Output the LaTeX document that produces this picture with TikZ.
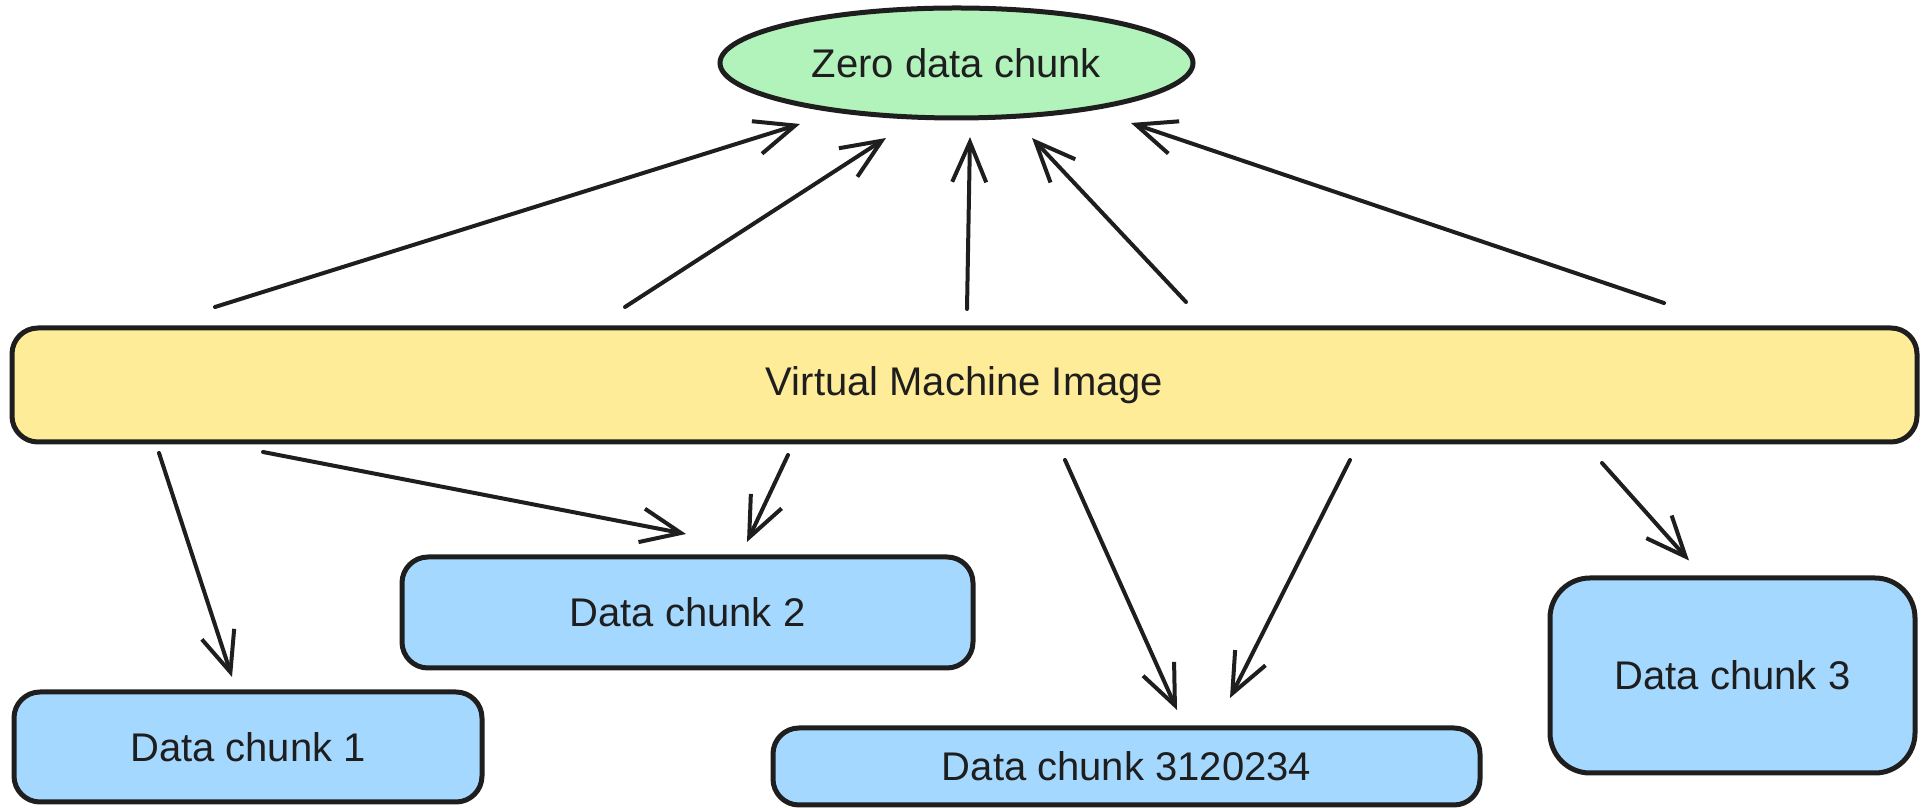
\documentclass[tikz,border=0pt]{standalone}
\usepackage{fontspec}
\setmainfont{Liberation Sans}
\usetikzlibrary{arrows.meta,calc,shapes.geometric}
\definecolor{ink}{HTML}{1E1E1E}
\definecolor{zerogreen}{HTML}{B2F2BB}
\definecolor{vmyellow}{HTML}{FFEC99}
\definecolor{chunkblue}{HTML}{A5D8FF}

\begin{document}
\begin{tikzpicture}[x=1pt,y=1pt,
    every node/.style={draw=ink,line width=5pt,inner sep=0pt,outer sep=0pt,
      text=ink,font=\fontsize{40}{48}\selectfont},
    chunk/.style={rounded corners=26pt,fill=chunkblue},
    arr/.style={draw=ink,line width=4pt,line cap=round,
      -{Straight Barb[length=40pt,width=34pt]}}]
    \useasboundingbox (0,0) rectangle (1930,808);

    % Zero chunk and the image
    \node[ellipse,fill=zerogreen,minimum width=473pt,minimum height=110pt] (zero) at (956.5,745) {Zero data chunk};
    \node[rounded corners=26pt,fill=vmyellow,minimum width=1905pt,minimum height=114pt] (vm) at (964.5,423) {Virtual Machine Image};

    % Data chunks
    \node[chunk,minimum width=468pt,minimum height=110pt] (dc1) at (248,61) {Data chunk 1};
    \node[chunk,minimum width=571pt,minimum height=111pt] (dc2) at (687.5,195.5) {Data chunk 2};
    \node[chunk,minimum width=707pt,minimum height=77pt] (dcn) at (1126.5,41.5) {Data chunk 3120234};
    \node[chunk,rounded corners=40pt,minimum width=365pt,minimum height=195pt] (dc3) at (1732.5,132.5) {Data chunk 3};

    % Image -> zero chunk
    \draw[arr] ($(vm.north west)+(203,21)$) -- ($(zero.south)+(-156.5,-6)$);
    \draw[arr] ($(vm.north west)+(613,21)$) -- ($(zero.south)+(-70.5,-20)$);
    \draw[arr] ($(vm.north west)+(955,19)$) -- ($(zero.south)+(13.5,-19)$);
    \draw[arr] ($(vm.north west)+(1174,26)$) -- ($(zero.south)+(75.5,-20)$);
    \draw[arr] ($(vm.north west)+(1652,25)$) -- ($(zero.south)+(174.5,-5)$);

    % Image -> data chunks
    \draw[arr] ($(vm.south west)+(147,-11)$) -- ($(dc1.north)+(-16,15)$);
    \draw[arr] ($(vm.south west)+(251,-10)$) -- ($(dc2.north)+(-1.5,23)$);
    \draw[arr] ($(vm.south west)+(776,-13)$) -- ($(dc2.north)+(59.5,15)$);
    \draw[arr] ($(vm.south west)+(1053,-18)$) -- ($(dcn.north)+(50.5,18)$);
    \draw[arr] ($(vm.south west)+(1338,-18)$) -- ($(dcn.north)+(103.5,30)$);
    \draw[arr] ($(vm.south west)+(1590,-21)$) -- ($(dc3.north)+(-43.5,17.5)$);
  \end{tikzpicture}
\end{document}
